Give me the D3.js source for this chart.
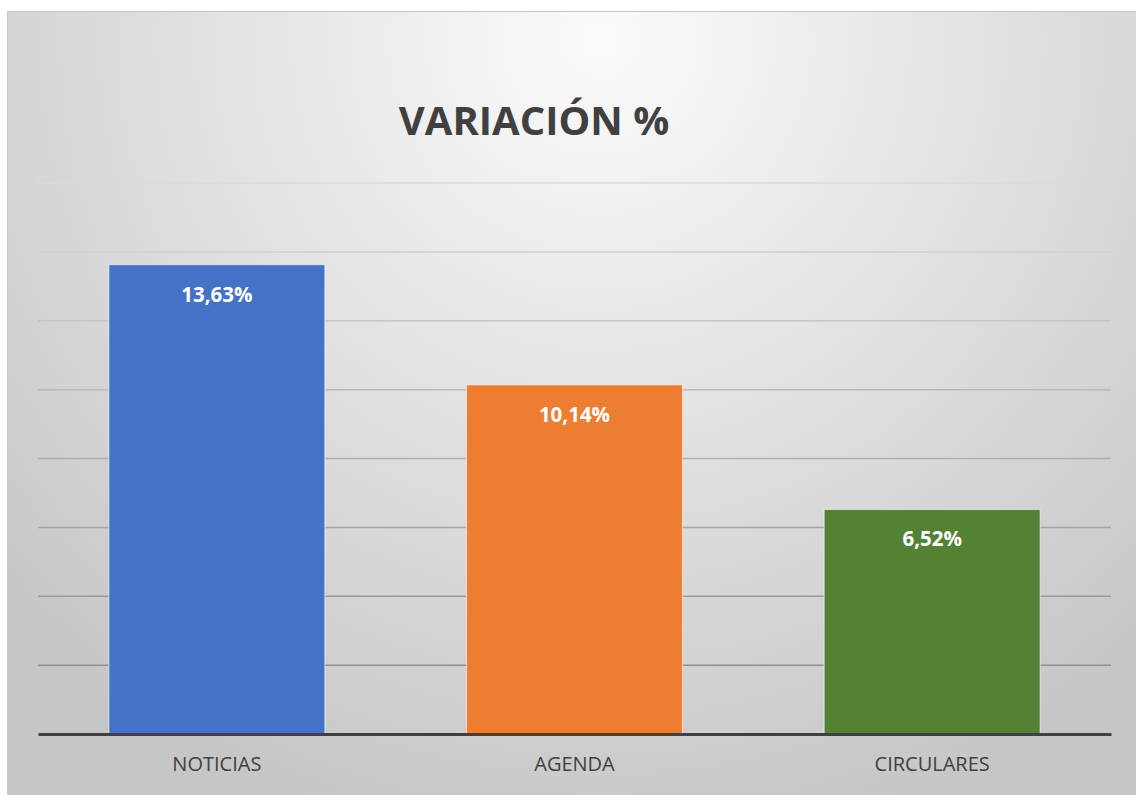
<!DOCTYPE html>
<html>
<head>
<meta charset="utf-8">
<script src="https://cdn.jsdelivr.net/npm/d3@7"></script>
<style>
	body { margin: 0; background: #fff; }
	text { font-family: 'Open Sans', sans-serif; }
</style>
</head>
<body>
<script>
const categories = ['NOTICIAS', 'AGENDA', 'CIRCULARES'];
const values = [13.63, 10.14, 6.52];
const valueLabels = ['13,63%', '10,14%', '6,52%'];
const barColors = ['#4472c4', '#ed7d31', '#548235'];
const gridTicks = [2, 4, 6, 8, 10, 12, 14, 16];

const W = 1136;
const H = 795;
const margin = { top: 183, right: 25, bottom: 61, left: 38 };
const width = W - margin.left - margin.right;
const height = H - margin.top - margin.bottom;

const svg = d3
	.select('body')
	.append('svg')
	.attr('width', W)
	.attr('height', H);

const defs = svg.append('defs');
const bg = defs
	.append('radialGradient')
	.attr('id', 'bg')
	.attr('gradientUnits', 'userSpaceOnUse')
	.attr('cx', 600)
	.attr('cy', 40)
	.attr('r', 820);
bg.append('stop').attr('offset', '0%').attr('stop-color', '#fbfbfb');
bg.append('stop').attr('offset', '100%').attr('stop-color', '#c6c6c6');

// chart area panel
svg
	.append('rect')
	.attr('x', 7.5)
	.attr('y', 11.5)
	.attr('width', W)
	.attr('height', H)
	.attr('fill', 'url(#bg)')
	.attr('stroke', '#c8c8c8')
	.attr('stroke-width', 1);

const g = svg
	.append('g')
	.attr('transform', `translate(${margin.left},${margin.top})`);

const x = d3
	.scaleBand()
	.domain(categories)
	.range([0, width])
	.paddingInner(0.396)
	.paddingOuter(0.198);

const y = d3
	.scaleLinear()
	.domain([0, 16])
	.range([height, 0]);

// gridlines get darker toward the bottom
const gridColor = d3.scaleLinear().domain([16, 2]).range(['#dadada', '#8f8f8f']);

g
	.append('g')
	.attr('class', 'grid')
	.selectAll('line')
	.data(gridTicks)
	.enter()
	.append('line')
	.attr('x1', 0)
	.attr('x2', width)
	.attr('y1', d => y(d))
	.attr('y2', d => y(d))
	.attr('stroke', d => gridColor(d))
	.attr('stroke-width', 1.5);

const bars = g
	.selectAll('g.bar')
	.data(categories)
	.enter()
	.append('g')
	.attr('class', 'bar');

bars
	.append('rect')
	.attr('x', d => x(d))
	.attr('width', x.bandwidth())
	.attr('y', (d, i) => y(values[i]))
	.attr('height', (d, i) => height - y(values[i]))
	.attr('fill', (d, i) => barColors[i])
	.attr('stroke', 'rgba(255,255,255,0.55)')
	.attr('stroke-width', 1.2);

bars
	.append('text')
	.attr('x', d => x(d) + x.bandwidth() / 2)
	.attr('y', (d, i) => y(values[i]) + 37)
	.attr('text-anchor', 'middle')
	.attr('fill', '#fff')
	.style('font-weight', 'bold')
	.style('font-size', '20.5px')
	.text((d, i) => valueLabels[i]);

// x axis
const xAxis = d3.axisBottom(x).tickSize(0).tickPadding(23);
const ax = g
	.append('g')
	.attr('transform', `translate(0,${height})`)
	.call(xAxis);
ax.select('.domain').attr('stroke', '#404040').attr('stroke-width', 3);
ax
	.selectAll('text')
	.attr('fill', '#404040')
	.style('font-size', '20px')
	.style('font-family', "'Open Sans', sans-serif");

svg
	.append('text')
	.attr('x', 534)
	.attr('y', 135)
	.attr('text-anchor', 'middle')
	.attr('fill', '#404040')
	.style('font-weight', 'bold')
	.style('font-size', '40px')
	.text('VARIACIÓN %');
</script>
</body>
</html>
